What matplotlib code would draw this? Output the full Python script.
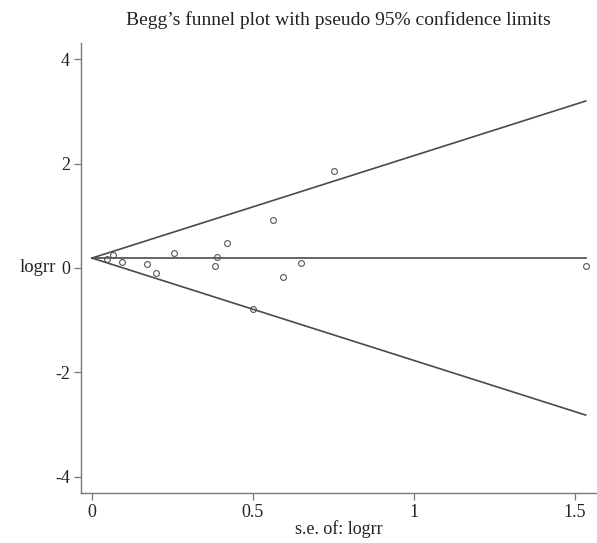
import numpy as np
import matplotlib
matplotlib.use('Agg')
import matplotlib.pyplot as plt

# study standard errors and log relative risks
se_logrr = [0.046, 0.065, 0.093, 0.170, 0.198, 0.254, 0.381, 0.390, 0.421,
            0.499, 0.564, 0.595, 0.651, 0.753, 1.534]
logrr = [0.17, 0.25, 0.11, 0.08, -0.09, 0.29, 0.04, 0.21, 0.48,
         -0.79, 0.92, -0.17, 0.10, 1.86, 0.04]
pooled = 0.19

x_ticks = [0, 0.5, 1, 1.5]
x_tick_labels = ['0', '0.5', '1', '1.5']
y_ticks = [-4, -2, 0, 2, 4]
y_tick_labels = ['-4', '-2', '0', '2', '4']

plt.rcParams['font.family'] = ['Liberation Serif', 'DejaVu Serif']

fig = plt.figure(figsize=(5.97, 5.43), dpi=100)
ax = fig.add_axes([0.1357, 0.092, 0.862, 0.829])

line_c = '#4a4a4a'
se_line = np.array([0, max(se_logrr)])
ax.plot(se_line, pooled + 1.96 * se_line, c=line_c, lw=1.2)
ax.plot(se_line, pooled - 1.96 * se_line, c=line_c, lw=1.2)
ax.plot(se_line, [pooled, pooled], c=line_c, lw=1.2)

ax.plot(se_logrr, logrr, ls='none', marker='o', ms=4.2, mfc='none',
        mec='#555555', mew=0.8)

ax.set_xlim(-0.034, 1.565)
ax.set_ylim(-4.31, 4.31)
ax.set_xticks(x_ticks)
ax.set_xticklabels(x_tick_labels)
ax.set_yticks(y_ticks)
ax.set_yticklabels(y_tick_labels)

for side in ['top', 'right']:
    ax.spines[side].set_visible(False)
for side in ['left', 'bottom']:
    ax.spines[side].set_color('#777777')
    ax.spines[side].set_linewidth(1.0)
ax.tick_params(direction='out', length=5, width=0.9, color='#777777',
               labelsize=13, pad=3, labelcolor='#222222')

ax.set_xlabel('s.e. of: logrr', fontsize=13, color='#222222', labelpad=-1)
ax.set_ylabel('logrr', fontsize=13.5, color='#222222', rotation=0,
              ha='right', va='center', labelpad=4)
ax.yaxis.set_label_coords(-0.048, 0.5)
ax.set_title('Begg’s funnel plot with pseudo 95% confidence limits',
             fontsize=14, color='#222222', pad=13)

fig.savefig('out.png', dpi=100)
